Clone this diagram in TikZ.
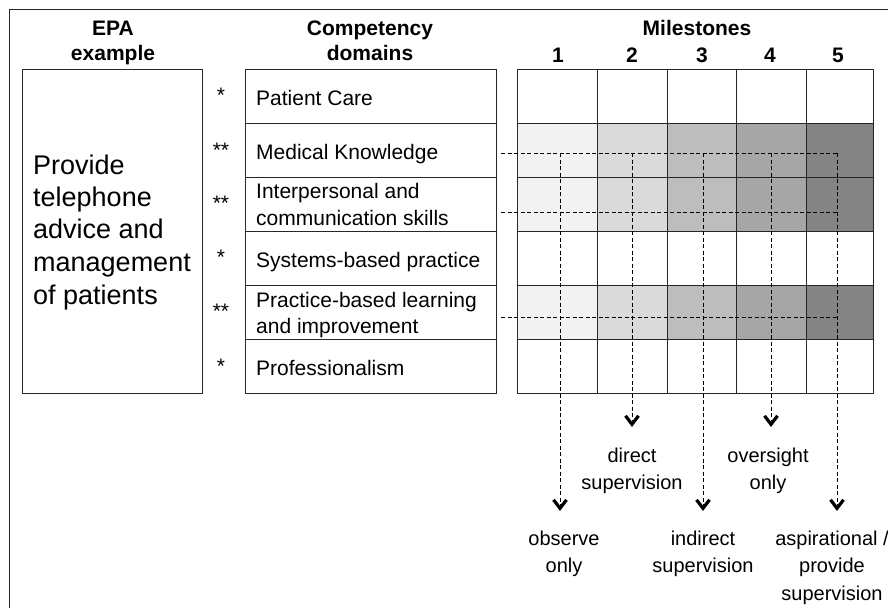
\documentclass[tikz,border=0pt]{standalone}
\usepackage{fontspec}
\setmainfont{Liberation Sans}
\usetikzlibrary{arrows.meta}
\definecolor{ms1}{HTML}{F2F2F2}
\definecolor{ms2}{HTML}{DADADA}
\definecolor{ms3}{HTML}{BDBDBD}
\definecolor{ms4}{HTML}{A6A6A6}
\definecolor{ms5}{HTML}{848484}
\tikzset{
  cell/.style={draw=black!85, line width=1.1pt, rectangle, inner sep=0pt, anchor=north west},
  txt/.style={inner sep=0pt, font=\fontsize{21}{25}\selectfont},
  big/.style={inner sep=0pt, anchor=base west, font=\fontsize{27}{32}\selectfont},
  hdr/.style={inner sep=0pt, anchor=base, font=\fontsize{21}{25}\selectfont\bfseries},
  lbl/.style={inner sep=0pt, anchor=base, font=\fontsize{20}{27}\selectfont},
  dl/.style={draw=black, line width=1pt, dash pattern=on 4pt off 2.5pt},
  chev/.pic={\draw[black, line width=3.2pt, line join=miter, line cap=butt] (-6.5,-10.5) -- (0,-2) -- (6.5,-10.5);},
}
\begin{document}
\begin{tikzpicture}[x=1pt,y=-1pt]
\useasboundingbox (0,0) rectangle (888,608);
\fill[white] (0,0) rectangle (888,608);
% outer frame (cropped at right and bottom)
\draw[line width=1.8pt, black!85] (9.5,608) -- (9.5,9.5) -- (888,9.5);

% headers
\node[hdr] (hepa1) at (113,35) {EPA};
\node[hdr] (hepa2) at (113,60) {example};
\node[hdr] (hcd1) at (370,35) {Competency};
\node[hdr] (hcd2) at (370,60) {domains};
\node[hdr] (hms) at (697,35) {Milestones};
\node[hdr] (n1) at (558,62) {1};
\node[hdr] (n2) at (632,62) {2};
\node[hdr] (n3) at (702,62) {3};
\node[hdr] (n4) at (770,62) {4};
\node[hdr] (n5) at (838,62) {5};

% EPA box
\node[cell, minimum width=180pt, minimum height=324pt] (epa) at (22,69) {};
\node[big] (e1) at (33,174) {Provide};
\node[big] (e2) at (33,206) {telephone};
\node[big] (e3) at (33,238) {advice and};
\node[big] (e4) at (33,271) {management};
\node[big] (e5) at (33,304) {of patients};

% competency rows
\foreach \i/\nm in {0/pc,1/mk,2/ic,3/sb,4/pb,5/pr}{
  \node[cell, minimum width=251pt, minimum height=54pt] (\nm) at (245,69+54*\i) {};
}
\node[txt, anchor=base west] (tpc) at (256,105) {Patient Care};
\node[txt, anchor=base west] (tmk) at (256,159) {Medical Knowledge};
\node[txt, anchor=base west] (tic1) at (256,198) {Interpersonal and};
\node[txt, anchor=base west] (tic2) at (256,225) {communication skills};
\node[txt, anchor=base west] (tsb) at (256,267) {Systems-based practice};
\node[txt, anchor=base west] (tpb1) at (256,307) {Practice-based learning};
\node[txt, anchor=base west] (tpb2) at (256,333) {and improvement};
\node[txt, anchor=base west] (tpr) at (256,375) {Professionalism};

% stars
\node[txt, anchor=base] (s1) at (221,102) {*};
\node[txt, anchor=base] (s2) at (221,157) {**};
\node[txt, anchor=base] (s3) at (221,210) {**};
\node[txt, anchor=base] (s4) at (221,264) {*};
\node[txt, anchor=base] (s5) at (221,318) {**};
\node[txt, anchor=base] (s6) at (221,373) {*};

% milestone grid
\foreach \r in {0,...,5}{
  \foreach \c/\xa/\xb in {1/517/597,2/597/667,3/667/736,4/736/806,5/806/873}{
    \pgfmathsetmacro{\w}{\xb-\xa}
    \ifnum\r=1 \def\fc{ms\c}\else\ifnum\r=2 \def\fc{ms\c}\else\ifnum\r=4 \def\fc{ms\c}\else\def\fc{white}\fi\fi\fi
    \node[cell, fill=\fc, minimum width=\w pt, minimum height=54pt] (g\r\c) at (\xa,69+54*\r) {};
  }
}

% milestone labels
\node[lbl] (dir1) at (632,462) {direct};
\node[lbl] (dir2) at (632,489) {supervision};
\node[lbl] (ove1) at (768,462) {oversight};
\node[lbl] (ove2) at (768,489) {only};
\node[lbl] (obs1) at (564,545) {observe};
\node[lbl] (obs2) at (564,572) {only};
\node[lbl] (ind1) at (703,545) {indirect};
\node[lbl] (ind2) at (703,572) {supervision};
\node[lbl] (asp1) at (832,545) {aspirational /};
\node[lbl] (asp2) at (832,572) {provide};
\node[lbl] (asp3) at (832,600) {supervision};

% dashed connectors
\coordinate (h1) at (501,153);
\coordinate (h2) at (501,212);
\coordinate (h3) at (501,317);
\coordinate (e1r) at (837,153);
\coordinate (e2r) at (837,212);
\coordinate (e3r) at (837,317);
\coordinate (v1) at (560,153);
\coordinate (v2) at (632,153);
\coordinate (v3) at (703,153);
\coordinate (v4) at (771,153);
\coordinate (t1) at ([yshift=20pt]obs1.north -| v1);
\coordinate (t2) at ([yshift=21pt]dir1.north -| v2);
\coordinate (t3) at ([yshift=20pt]ind1.north -| v3);
\coordinate (t4) at ([yshift=21pt]ove1.north -| v4);
\coordinate (t5) at ([yshift=20pt]asp1.north -| e1r);
\draw[dl] (h1) -- (e1r);
\draw[dl] (h2) -- (e2r);
\draw[dl] (h3) -- (e3r);
\foreach \a/\b in {v1/t1,v2/t2,v3/t3,v4/t4,e1r/t5}{
  \draw[dl] (\a) -- ([yshift=6pt]\b);
  \pic at (\b) {chev};
}
\end{tikzpicture}
\end{document}
